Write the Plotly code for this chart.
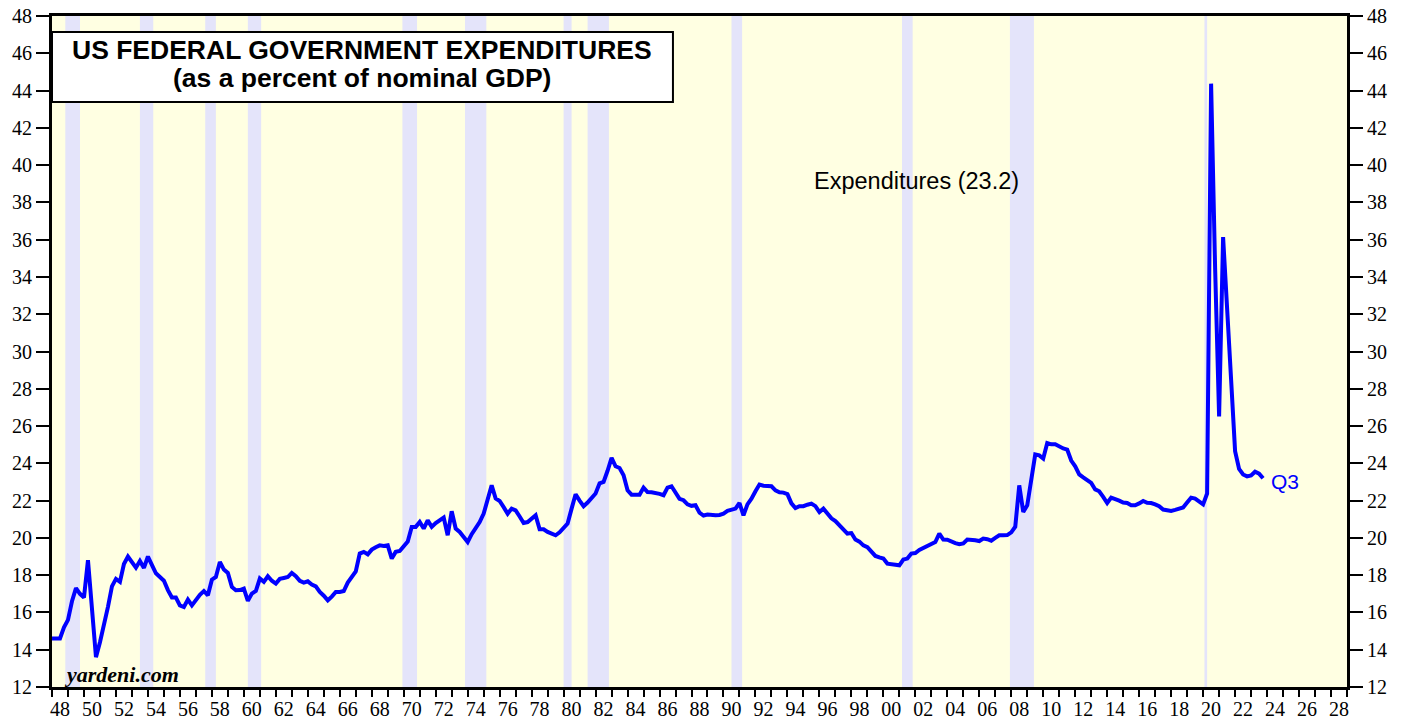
import plotly.graph_objects as go
import pandas as pd

# ---------------- data ----------------
# Federal expenditures as % of nominal GDP, quarterly, starting 1947Q4
exp_1948_1957 = [14.6, 14.6, 14.6, 15.2, 15.6, 16.6, 17.3, 17.0, 16.8, 18.8,
                 16.2, 13.6, 14.4, 15.3, 16.3, 17.4, 17.8, 17.64, 18.6, 19.0,
                 18.7, 18.4, 18.76, 18.39, 19.0, 18.5, 18.1, 17.9, 17.7, 17.2,
                 16.8, 16.8, 16.38, 16.29, 16.69, 16.38, 16.7, 16.95, 17.15, 16.92]
exp_1958_1967 = [17.76, 17.9, 18.71, 18.3, 18.12, 17.37, 17.19, 17.2, 17.28, 16.62,
                 17.01, 17.15, 17.82, 17.64, 17.94, 17.7, 17.55, 17.8, 17.85, 17.9,
                 18.12, 17.95, 17.7, 17.6, 17.67, 17.5, 17.4, 17.1, 16.9, 16.65,
                 16.85, 17.1, 17.1, 17.15, 17.6, 17.9, 18.2, 19.16, 19.25, 19.12]
exp_1968_1977 = [19.37, 19.5, 19.6, 19.57, 19.6, 18.89, 19.25, 19.3, 19.55, 19.8,
                 20.59, 20.59, 20.85, 20.5, 20.94, 20.59, 20.8, 20.95, 21.09, 20.14,
                 21.43, 20.5, 20.32, 20.05, 19.78, 20.2, 20.5, 20.85, 21.3, 22.0,
                 22.82, 22.11, 21.98, 21.65, 21.3, 21.57, 21.48, 21.15, 20.8, 20.85]
exp_1978_1987 = [21.0, 21.21, 20.46, 20.46, 20.32, 20.22, 20.14, 20.3, 20.55, 20.77,
                 21.57, 22.34, 22.0, 21.7, 21.9, 22.11, 22.38, 22.93, 23.0, 23.6,
                 24.29, 23.84, 23.75, 23.36, 22.55, 22.32, 22.32, 22.32, 22.7, 22.46,
                 22.45, 22.43, 22.36, 22.29, 22.7, 22.77, 22.4, 22.1, 22.02, 21.8]
exp_1988_1997 = [21.72, 21.75, 21.35, 21.2, 21.25, 21.22, 21.21, 21.23, 21.3, 21.45,
                 21.52, 21.57, 21.87, 21.21, 21.8, 22.1, 22.5, 22.86, 22.8, 22.8,
                 22.77, 22.55, 22.45, 22.43, 22.35, 21.85, 21.6, 21.7, 21.7, 21.78,
                 21.84, 21.7, 21.39, 21.57, 21.3, 21.05, 20.9, 20.68, 20.5, 20.23]
exp_1998_2007 = [20.26, 19.91, 19.8, 19.6, 19.5, 19.25, 19.03, 18.95, 18.89, 18.62,
                 18.6, 18.57, 18.53, 18.84, 18.89, 19.16, 19.19, 19.35, 19.46, 19.51,
                 19.65, 19.78, 20.23, 19.91, 19.9, 19.8, 19.72, 19.66, 19.7, 19.91,
                 19.91, 19.87, 19.83, 19.96, 19.93, 19.85, 20.0, 20.14, 20.14, 20.15]
exp_2008_2017 = [20.3, 20.6, 22.82, 21.39, 21.75, 23.1, 24.48, 24.43, 24.26, 25.09,
                 25.02, 25.02, 24.88, 24.8, 24.74, 24.15, 23.84, 23.41, 23.25, 23.1,
                 22.95, 22.6, 22.5, 22.2, 21.87, 22.16, 22.1, 22.0, 21.9, 21.87,
                 21.75, 21.75, 21.85, 21.98, 21.88, 21.87, 21.8, 21.7, 21.52, 21.47]
exp_2018_2023 = [21.45, 21.5, 21.57, 21.63, 21.9, 22.16, 22.11, 21.95, 21.8, 22.38,
                 44.37, 34.5, 26.52, 36.14, 32.7, 28.5, 24.65, 23.7, 23.4, 23.3,
                 23.35, 23.55, 23.45, 23.2]
first_quarter = "1947Q4"

# NBER recessions (peak month, trough month)
rec_start = ["1948-11", "1953-07", "1957-08", "1960-04", "1969-12", "1973-11",
             "1980-01", "1981-07", "1990-07", "2001-03", "2007-12", "2020-02"]
rec_end = ["1949-10", "1954-05", "1958-04", "1961-02", "1970-11", "1975-03",
           "1980-07", "1982-11", "1991-03", "2001-11", "2009-06", "2020-04"]

tick_years = list(range(1948, 2029, 2))
tick_text = [f"{y % 100:02d}" for y in tick_years]
y_ticks = list(range(12, 49, 2))

# ---------------- build ----------------
values = (exp_1948_1957 + exp_1958_1967 + exp_1968_1977 + exp_1978_1987 +
          exp_1988_1997 + exp_1998_2007 + exp_2008_2017 + exp_2018_2023)
quarters = pd.period_range(first_quarter, periods=len(values), freq="Q")
xq = [q.year + q.quarter / 4.0 for q in quarters]  # quarter-end position


def dec(s):
    y, m = s.split("-")
    return int(y) + (int(m) - 1) / 12.0


BAND = "#E4E4FA"
BG = "#FFFFE2"
TICKFONT = dict(family="Liberation Serif", size=20, color="black")

fig = go.Figure()
fig.add_trace(go.Scatter(x=xq, y=values, mode="lines",
                         line=dict(color="#0000FF", width=4),
                         hoverinfo="skip", showlegend=False))
# helper trace so the overlay axes (labels / right axis) render
fig.add_trace(go.Scatter(x=[1948, 2029], y=[12, 48], mode="none",
                         xaxis="x2", yaxis="y2", hoverinfo="skip",
                         showlegend=False))

shapes = []
for s, e in zip(rec_start, rec_end):
    shapes.append(dict(type="rect", xref="x", yref="paper", x0=dec(s), x1=dec(e),
                       y0=0, y1=1, fillcolor=BAND, line=dict(width=0),
                       layer="below"))
# title box
shapes.append(dict(type="rect", xref="paper", yref="paper",
                   x0=0.0, x1=0.4795, y0=0.8718, y1=0.976,
                   fillcolor="white", line=dict(color="black", width=2),
                   layer="above"))

annotations = [
    dict(xref="paper", yref="paper", x=0.2397, y=0.949, xanchor="center",
         yanchor="middle", showarrow=False,
         text="<b>US FEDERAL GOVERNMENT EXPENDITURES</b>",
         font=dict(family="Liberation Sans", size=26.5, color="black")),
    dict(xref="paper", yref="paper", x=0.2397, y=0.907, xanchor="center",
         yanchor="middle", showarrow=False,
         text="<b>(as a percent of nominal GDP)</b>",
         font=dict(family="Liberation Sans", size=26.5, color="black")),
    dict(xref="x", yref="y", x=2002.1, y=39.15, xanchor="center",
         yanchor="middle", showarrow=False, text="Expenditures (23.2)",
         font=dict(family="Liberation Sans", size=23.5, color="black")),
    dict(xref="x", yref="y", x=2024.1, y=23.05, xanchor="left",
         yanchor="middle", showarrow=False, text="Q3",
         font=dict(family="Liberation Sans", size=21, color="#0000FF")),
    dict(xref="paper", yref="paper", x=0.008, y=0.019, xanchor="left",
         yanchor="middle", showarrow=False, text="<b><i>yardeni.com</i></b>",
         font=dict(family="Liberation Serif", size=22, color="black")),
]

# plot area at x 52..1347, y 16..687 of the 1407x719 window
fig.update_layout(
    width=1407, height=719,
    margin=dict(l=52, r=60, t=16, b=32, autoexpand=False),
    paper_bgcolor="white", plot_bgcolor=BG,
    showlegend=False,
    shapes=shapes, annotations=annotations,
    xaxis=dict(range=[1948, 2029], tickmode="linear", tick0=1948, dtick=1,
               ticks="outside", ticklen=7, tickwidth=2, tickcolor="black",
               showticklabels=False, showline=True, linewidth=3,
               linecolor="black", mirror=True, showgrid=False, zeroline=False,
               automargin=False),
    xaxis2=dict(overlaying="x", anchor="y", side="bottom", range=[1948, 2029],
                tickmode="array", tickvals=[y + 0.5 for y in tick_years],
                ticktext=tick_text, ticks="outside", ticklen=4,
                tickcolor="rgba(0,0,0,0)", showline=False, showgrid=False,
                zeroline=False, tickfont=TICKFONT, automargin=False,
                ticklabeloverflow="allow"),
    yaxis=dict(range=[12, 48], tickmode="array", tickvals=y_ticks,
               ticks="outside", ticklen=13, tickwidth=1.5, tickcolor="black",
               showline=True, linewidth=3, linecolor="black", mirror=True,
               showgrid=False, zeroline=False, tickfont=TICKFONT,
               automargin=False, ticklabeloverflow="allow"),
    yaxis2=dict(overlaying="y", anchor="x", side="right", range=[12, 48],
                tickmode="array", tickvals=y_ticks, ticks="outside",
                ticklen=13, tickwidth=1.5, tickcolor="black",
                showline=True, linewidth=3, linecolor="black",
                showgrid=False, zeroline=False, tickfont=TICKFONT,
                automargin=False, ticklabeloverflow="allow"),
)

# remove the browser's default 8px body margin so the figure fills the window
fig.write_html("out.html",
               config={"displayModeBar": False},
               post_script="document.body.style.margin='0px';"
                           "document.body.style.overflow='hidden';")
